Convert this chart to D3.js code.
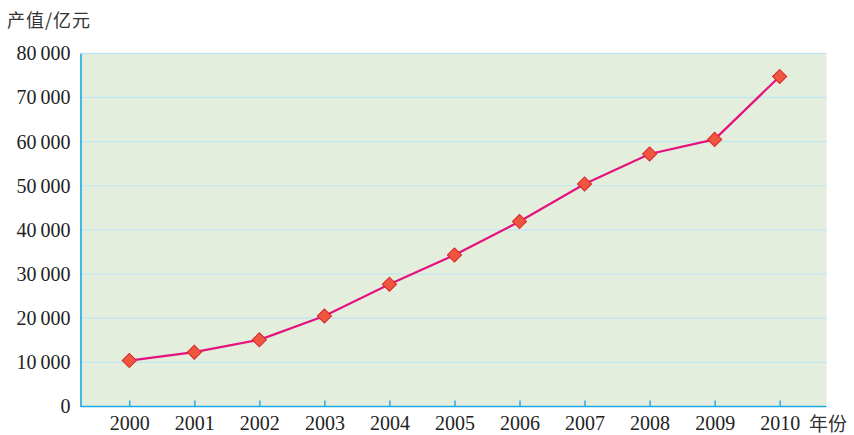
<!DOCTYPE html>
<html>
<head>
<meta charset="utf-8">
<script src="https://cdn.jsdelivr.net/npm/d3@7/dist/d3.min.js"></script>
<style>
  html, body { margin: 0; padding: 0; background: #fff; }
  svg { display: block; }
</style>
</head>
<body>
<svg id="chart" width="854" height="435"></svg>
<script>
// Annual output value (亿元), 2000–2010
const years = [2000, 2001, 2002, 2003, 2004, 2005, 2006, 2007, 2008, 2009, 2010];
const values = [10400, 12300, 15100, 20500, 27700, 34300, 41900, 50400, 57200, 60500, 74750];
const yTicks = [0, 10000, 20000, 30000, 40000, 50000, 60000, 70000, 80000];
const yTitle = "产值/亿元";
const xTitle = "年份";

const svg = d3.select("#chart");
const plotL = 80.5, plotR = 826.5, plotT = 53.3, plotB = 406.5;

const x = d3.scaleLinear().domain([1999.25, 2010.72]).range([plotL, plotR]);
const y = d3.scaleLinear().domain([0, 80000]).range([plotB, plotT]);

const serif = "'Liberation Serif', 'DejaVu Serif', serif";
const cjk = "'Noto Sans CJK SC', sans-serif";
const fmt = v => {
  if (v === 0) return "0";
  const s = String(v);
  return s.slice(0, s.length - 3) + "\u2009" + s.slice(-3);
};

// plot background
svg.append("rect")
  .attr("x", plotL).attr("y", plotT)
  .attr("width", plotR - plotL).attr("height", plotB - plotT)
  .attr("fill", "#e3efdc");

// horizontal gridlines
svg.append("g").selectAll("line")
  .data(yTicks.filter(d => d > 0))
  .join("line")
  .attr("x1", plotL).attr("x2", plotR)
  .attr("y1", d => y(d)).attr("y2", d => y(d))
  .attr("stroke", "#bfe6f2").attr("stroke-width", 1.2);

// y axis (line only, labels on the left)
const yAxis = d3.axisLeft(y).tickValues(yTicks).tickSize(0).tickPadding(10).tickFormat(fmt);
const gy = svg.append("g").attr("transform", `translate(${plotL},0)`).call(yAxis);
gy.select(".domain").attr("stroke", "#1ba8e3").attr("stroke-width", 1.6);
gy.selectAll("text")
  .attr("font-family", serif).attr("font-size", 20).attr("fill", "#222");

// x axis with inward ticks
const xAxis = d3.axisBottom(x).tickValues(years).tickSize(-6).tickPadding(9).tickFormat(d3.format("d"));
const gx = svg.append("g").attr("transform", `translate(0,${plotB})`).call(xAxis);
gx.select(".domain").attr("stroke", "#1ba8e3").attr("stroke-width", 1.6)
  .attr("d", `M${plotL},0H${plotR}`);
gx.selectAll(".tick line").attr("stroke", "#1ba8e3").attr("stroke-width", 1.4);
gx.selectAll("text")
  .attr("font-family", serif).attr("font-size", 20).attr("fill", "#222");

// titles
svg.append("text").attr("x", 7).attr("y", 27)
  .attr("font-family", cjk).attr("font-size", 18).attr("letter-spacing", 1).attr("fill", "#333")
  .text(yTitle);
svg.append("text").attr("x", 809).attr("y", 431)
  .attr("font-family", cjk).attr("font-size", 19).attr("fill", "#333")
  .text(xTitle);

// line
const pts = years.map((yr, i) => [yr, values[i]]);
svg.append("path")
  .datum(pts)
  .attr("fill", "none")
  .attr("stroke", "#e5127f")
  .attr("stroke-width", 2.2)
  .attr("d", d3.line().x(d => x(d[0])).y(d => y(d[1])));

// diamond markers
const sym = d3.symbol().type(d3.symbolSquare).size(100);
svg.append("g").selectAll("path")
  .data(pts)
  .join("path")
  .attr("d", sym)
  .attr("transform", d => `translate(${x(d[0])},${y(d[1])}) rotate(45)`)
  .attr("fill", "#f0553f")
  .attr("stroke", "#d9262e")
  .attr("stroke-width", 1);
</script>
</body>
</html>
